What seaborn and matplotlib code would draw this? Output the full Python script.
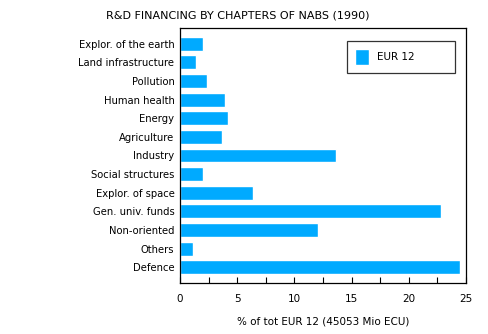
import matplotlib
matplotlib.use("Agg")
import matplotlib.pyplot as plt
import seaborn as sns
import pandas as pd
from matplotlib.ticker import MultipleLocator

categories = ["Explor. of the earth", "Land infrastructure", "Pollution", "Human health",
              "Energy", "Agriculture", "Industry", "Social structures", "Explor. of space",
              "Gen. univ. funds", "Non-oriented", "Others", "Defence"]
values = [2.05, 1.37, 2.33, 3.9, 4.17, 3.64, 13.6, 2.05, 6.35, 22.8, 12.1, 1.1, 24.45]
series = "EUR 12"

df = pd.DataFrame({"cat": categories, "val": values, "series": series})

sns.set_style("white")
plt.rcParams["font.family"] = ["DejaVu Sans"]
plt.rcParams.update({"text.color": "black", "axes.labelcolor": "black",
                     "xtick.color": "black", "ytick.color": "black"})

fig = plt.figure(figsize=(4.88, 3.34), dpi=100)
ax = fig.add_axes([180/488, 51/334, 286/488, 255/334])
sns.barplot(data=df, x="val", y="cat", hue="series", orient="h", palette=["#00AAFF"],
            width=0.75, ax=ax, saturation=1)

ax.set_xlim(0, 25)
ax.set_ylim(12.85, -0.85)
ax.xaxis.set_major_locator(MultipleLocator(5))
ax.xaxis.set_minor_locator(MultipleLocator(2.5))
ax.tick_params(axis="x", which="both", direction="in", length=4, width=0.8, color="black",
               bottom=True, labelsize=7.5, pad=8)
ax.tick_params(axis="y", which="major", direction="in", length=6, width=0.8, color="black",
               left=True, labelsize=7.2, pad=4)
for s in ax.spines.values():
    s.set_color("black")
    s.set_linewidth(0.9)
ax.set_ylabel("")
ax.set_xlabel("% of tot EUR 12 (45053 Mio ECU)", fontsize=7.5, labelpad=9)
fig.text(238/488, 1 - 15/334, "R&D FINANCING BY CHAPTERS OF NABS (1990)", ha="center",
         va="center", fontsize=8)

leg = ax.legend(loc="upper left", bbox_to_anchor=(347/488, 1 - 75/334, 108/488, 34/334),
                mode="expand",
                bbox_transform=fig.transFigure, frameon=True, fancybox=False,
                fontsize=7.5, handlelength=1.35, handleheight=1.9, borderpad=0.8,
                handletextpad=0.7, borderaxespad=0)
leg.get_frame().set_edgecolor("black")
leg.get_frame().set_linewidth(0.9)
for t in leg.get_texts():
    t.set_text(series)

fig.savefig("out.png", dpi=100)
